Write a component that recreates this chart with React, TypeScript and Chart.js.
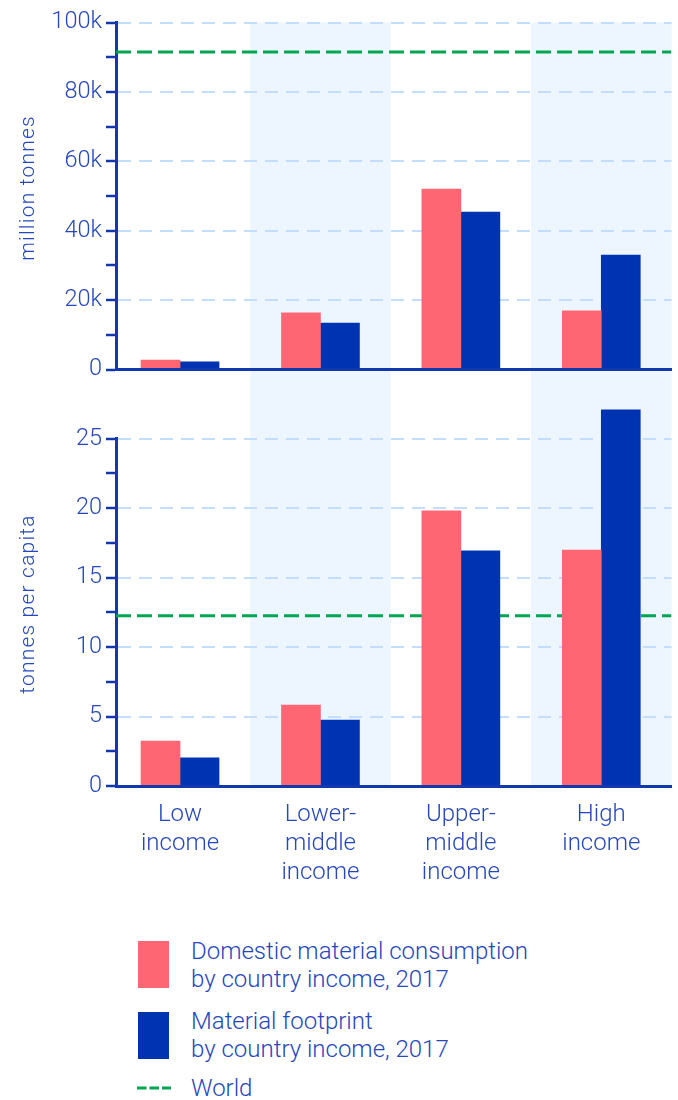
import React, { useEffect, useRef } from 'react';
import { Chart, registerables } from 'chart.js';

Chart.register(...registerables);

// ---------- data ----------
const CATEGORIES: string[][] = [
  ['Low', 'income'],
  ['Lower-', 'middle', 'income'],
  ['Upper-', 'middle', 'income'],
  ['High', 'income'],
];
const SHADED = [false, true, false, true];

// million tonnes
const DMC_TOTAL = [2700, 16300, 52000, 16900];
const MF_TOTAL = [2200, 13400, 45400, 33000];
const WORLD_TOTAL = 91500;

// tonnes per capita
const DMC_PER_CAPITA = [3.24, 5.83, 19.8, 16.99];
const MF_PER_CAPITA = [2.02, 4.75, 16.92, 27.07];
const WORLD_PER_CAPITA = 12.25;

const TOTAL_MAX = 100000;
const TOTAL_STEP = 10000;
const TOTAL_LABEL_STEP = 20000;
const PC_MAX = 25;
const PC_STEP = 2.5;
const PC_LABEL_STEP = 5;

const TITLE_TOTAL = 'million tonnes';
const TITLE_PC = 'tonnes per capita';
const LEGEND_DMC = ['Domestic material consumption', 'by country income, 2017'];
const LEGEND_MF = ['Material footprint', 'by country income, 2017'];
const LEGEND_WORLD = 'World';

// ---------- style ----------
const X_MIN = -0.456;
const X_MAX = 3.5;
const RED = '#ff6674';
const BLUE = '#0033b2';
const GREEN = '#00a651';
const GRID = '#c2defc';
const BAND = '#edf6fe';
const AXIS = '#1238b0';
const TEXT = '#2546bd';
const FONT = 'Roboto, "Noto Sans", sans-serif';

const fmtTotal = (v: number) => (v === 0 ? '0' : `${v / 1000}k`);
const fmtPc = (v: number) => String(v);

function bandsPlugin(mode: 'top' | 'bottom') {
  return {
    id: 'bands-' + mode,
    beforeDraw(chart: any) {
      const { ctx, chartArea, scales } = chart;
      const x = scales.x;
      const y0 = mode === 'top' ? chartArea.top : 0;
      const y1 = mode === 'top' ? chart.height : chartArea.bottom + 2;
      ctx.save();
      ctx.fillStyle = BAND;
      SHADED.forEach((s, i) => {
        if (!s) return;
        const a = x.getPixelForValue(i - 0.5);
        const b = x.getPixelForValue(i + 0.5);
        ctx.fillRect(a, y0, b - a, y1 - y0);
      });
      ctx.restore();
    },
  };
}

function makeConfig(p: {
  dmc: number[];
  mf: number[];
  world: number;
  max: number;
  step: number;
  labelStep: number;
  fmt: (v: number) => string;
  showX: boolean;
  xHeight: number;
  padTop: number;
  mode: 'top' | 'bottom';
}): any {
  const yFont = { family: FONT, size: 23.5, weight: '300', lineHeight: '29px' };
  const xFont = { family: FONT, size: 24, weight: '300', lineHeight: '29px' };
  return {
    type: 'bar',
    data: {
      datasets: [
        {
          type: 'bar',
          label: 'dmc',
          data: p.dmc.map((y, i) => ({ x: i, y })),
          backgroundColor: RED,
          borderWidth: 0,
          barThickness: 39,
          clip: false,
          order: 1,
        },
        {
          type: 'bar',
          label: 'mf',
          data: p.mf.map((y, i) => ({ x: i, y })),
          backgroundColor: BLUE,
          borderWidth: 0,
          barThickness: 39,
          clip: false,
          order: 1,
        },
        {
          type: 'line',
          label: 'world',
          data: [
            { x: X_MIN, y: p.world },
            { x: X_MAX, y: p.world },
          ],
          borderColor: GREEN,
          borderWidth: 3,
          borderDash: [15, 6],
          pointRadius: 0,
          fill: false,
          order: 10,
        },
      ],
    },
    options: {
      animation: false,
      responsive: true,
      maintainAspectRatio: false,
      events: [],
      layout: { padding: { top: p.padTop, right: 6.5, left: 0, bottom: 0 } },
      plugins: { legend: { display: false }, tooltip: { enabled: false } },
      scales: {
        x: {
          type: 'linear',
          min: X_MIN,
          max: X_MAX,
          offset: false,
          grid: { display: false },
          border: { display: true, color: AXIS, width: 3, z: 1 },
          ticks: {
            display: p.showX,
            autoSkip: false,
            maxRotation: 0,
            minRotation: 0,
            padding: 6,
            color: TEXT,
            font: xFont,
            callback: (v: number) => CATEGORIES[v] ?? '',
          },
          afterBuildTicks: (s: any) => {
            s.ticks = CATEGORIES.map((_, i) => ({ value: i }));
          },
          afterFit: (s: any) => {
            s.height = p.xHeight;
          },
        },
        y: {
          type: 'linear',
          min: 0,
          max: p.max,
          grid: {
            color: (ctx: any) => {
              const v = ctx.tick ? ctx.tick.value : 0;
              return v && Math.abs(v % p.labelStep) < 1e-9 ? GRID : 'rgba(0,0,0,0)';
            },
            lineWidth: 2,
            drawTicks: true,
            tickLength: 10,
            tickColor: AXIS,
            tickWidth: 2.5,
          },
          border: { display: true, color: AXIS, width: 3, dash: [13, 8] },
          ticks: {
            stepSize: p.step,
            autoSkip: false,
            padding: 4,
            color: TEXT,
            font: yFont,
            callback: (v: number) => (Math.abs(v % p.labelStep) < 1e-9 ? p.fmt(v) : ''),
          },
          afterFit: (s: any) => {
            s.width = 116;
          },
        },
      },
    },
    plugins: [bandsPlugin(p.mode)],
  };
}

function RotatedTitle({ text, cx, cy }: { text: string; cx: number; cy: number }) {
  const w = 300;
  const h = 26;
  return (
    <div
      style={{
        position: 'absolute',
        left: cx - w / 2,
        top: cy - h / 2,
        width: w,
        height: h,
        lineHeight: h + 'px',
        fontSize: 21,
        letterSpacing: '1.2px',
        fontFamily: FONT,
        fontWeight: 300,
        color: TEXT,
        textAlign: 'center',
        whiteSpace: 'nowrap',
        transform: 'rotate(-90deg)',
        transformOrigin: 'center center',
      }}
    >
      {text}
    </div>
  );
}

export default function App() {
  const topRef = useRef<HTMLCanvasElement | null>(null);
  const botRef = useRef<HTMLCanvasElement | null>(null);

  useEffect(() => {
    const top = new Chart(
      topRef.current as HTMLCanvasElement,
      makeConfig({
        dmc: DMC_TOTAL,
        mf: MF_TOTAL,
        world: WORLD_TOTAL,
        max: TOTAL_MAX,
        step: TOTAL_STEP,
        labelStep: TOTAL_LABEL_STEP,
        fmt: fmtTotal,
        showX: false,
        xHeight: 30.5,
        padTop: 22.5,
        mode: 'top',
      })
    );
    const bot = new Chart(
      botRef.current as HTMLCanvasElement,
      makeConfig({
        dmc: DMC_PER_CAPITA,
        mf: MF_PER_CAPITA,
        world: WORLD_PER_CAPITA,
        max: PC_MAX,
        step: PC_STEP,
        labelStep: PC_LABEL_STEP,
        fmt: fmtPc,
        showX: true,
        xHeight: 114,
        padTop: 38.7,
        mode: 'bottom',
      })
    );
    return () => {
      top.destroy();
      bot.destroy();
    };
  }, []);

  const textStyle: React.CSSProperties = {
    position: 'absolute',
    left: 191,
    fontFamily: FONT,
    fontWeight: 300,
    fontSize: 24,
    lineHeight: '28.3px',
    color: TEXT,
    whiteSpace: 'nowrap',
  };

  return (
    <div
      style={{
        position: 'absolute',
        left: 0,
        top: 0,
        width: 678,
        height: 1100,
        overflow: 'hidden',
        background: '#fff',
      }}
    >
      <div style={{ position: 'absolute', left: 0, top: 0, width: 678, height: 400 }}>
        <canvas ref={topRef} />
      </div>
      <div style={{ position: 'absolute', left: 0, top: 400, width: 678, height: 500 }}>
        <canvas ref={botRef} />
      </div>

      <RotatedTitle text={TITLE_TOTAL} cx={27} cy={188} />
      <RotatedTitle text={TITLE_PC} cx={27} cy={604} />

      {/* legend */}
      <div style={{ position: 'absolute', left: 138, top: 941, width: 31, height: 47, background: RED }} />
      <div style={{ ...textStyle, top: 937 }}>
        {LEGEND_DMC[0]}
        <br />
        {LEGEND_DMC[1]}
      </div>
      <div style={{ position: 'absolute', left: 138, top: 1012, width: 31, height: 47, background: BLUE }} />
      <div style={{ ...textStyle, top: 1006.5 }}>
        {LEGEND_MF[0]}
        <br />
        {LEGEND_MF[1]}
      </div>
      <svg style={{ position: 'absolute', left: 136, top: 1083 }} width={40} height={10}>
        <line x1={1} y1={5} x2={35} y2={5} stroke={GREEN} strokeWidth={3} strokeDasharray="9.5 3" />
      </svg>
      <div style={{ ...textStyle, top: 1074 }}>{LEGEND_WORLD}</div>
    </div>
  );
}
